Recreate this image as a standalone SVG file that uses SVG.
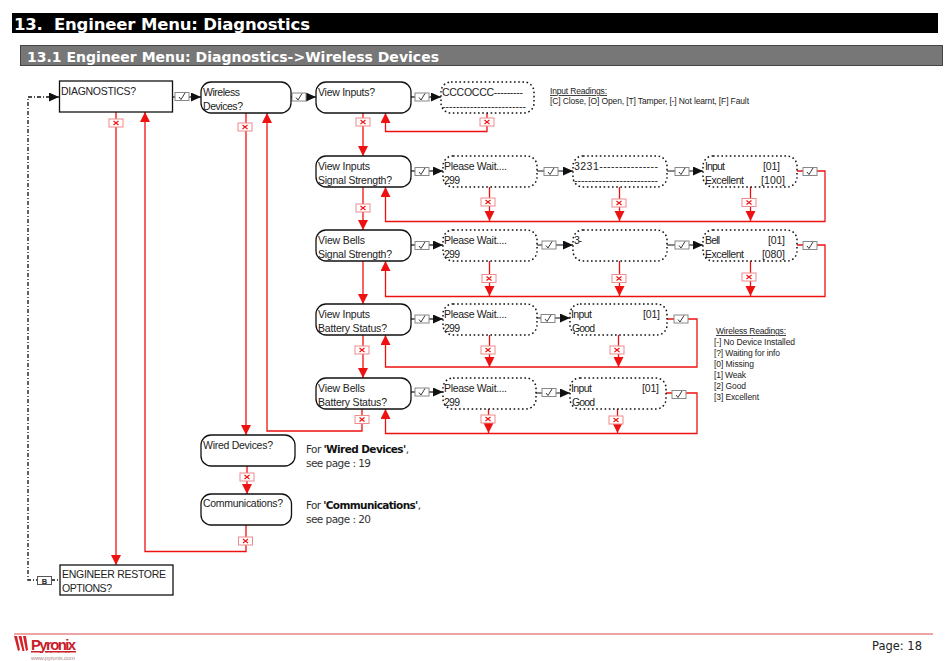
<svg xmlns="http://www.w3.org/2000/svg" width="950" height="661" viewBox="0 0 950 661">
<style>
text{font-family:"Liberation Sans",Arial,sans-serif;font-size:10.5px;fill:#222}
.v{font-family:"DejaVu Sans",Verdana,sans-serif;fill:#333}
.n{font-size:8.5px}
.b{fill:#fff;stroke:#111;stroke-width:1.3}
.d{fill:#fff;stroke:#111;stroke-width:1.5;stroke-dasharray:1.6 2.6}
.r{fill:none;stroke:#ee1111;stroke-width:1.3}
.k{fill:none;stroke:#111;stroke-width:1.2}
.dd{fill:none;stroke:#111;stroke-width:1.3;stroke-dasharray:4 2 1 2}
.chk{fill:#fff;stroke:#888;stroke-width:1}
.xb{fill:#fff;stroke:#f08a8c;stroke-width:1}
</style>
<defs>
<marker id="ar" markerUnits="userSpaceOnUse" markerWidth="11" markerHeight="11" refX="10" refY="5" orient="auto"><path d="M0 0L10 5L0 10Z" fill="#ee1111"/></marker>
<marker id="ak" markerUnits="userSpaceOnUse" markerWidth="11" markerHeight="11" refX="10" refY="4.5" orient="auto"><path d="M0 0L10 4.500L0 9Z" fill="#111"/></marker>
<g id="c"><rect class="chk" x="-7" y="-4" width="14" height="8"/><path d="M-3 0.500L-1 3L3 -3.500" fill="none" stroke="#222" stroke-width="0.900"/></g>
<g id="x"><rect class="xb" x="-7" y="-4" width="14" height="8"/><path d="M-2.500 -2L2.500 2M2.500 -2L-2.500 2" fill="none" stroke="#ee1111" stroke-width="1.100"/></g>
</defs>
<rect x="12" y="13" width="926" height="20" fill="#000"/>
<text x="14" y="30" textLength="296" style="font-family:'DejaVu Sans',Verdana,sans-serif;font-size:16.500px;font-weight:bold;fill:#fff" xml:space="preserve">13.  Engineer Menu: Diagnostics</text>
<rect x="20.500" y="45.500" width="922" height="20" fill="#777" stroke="#444"/>
<text x="27" y="61.500" textLength="412" style="font-family:'DejaVu Sans',Verdana,sans-serif;font-size:14px;font-weight:bold;fill:#fff">13.1 Engineer Menu: Diagnostics-&gt;Wireless Devices</text>

<g id="connectors">
<path class="dd" d="M50 97H28V580H37M51 580H60"/>
<path class="k" d="M49 97H59" marker-end="url(#ak)"/>
<path class="k" d="M172 97H201" marker-end="url(#ak)"/>
<path class="k" d="M291 97H316" marker-end="url(#ak)"/>
<path class="k" d="M411 97H441" marker-end="url(#ak)"/>
<path class="k" d="M411 171H443" marker-end="url(#ak)"/>
<path class="k" d="M537 171H573" marker-end="url(#ak)"/>
<path class="k" d="M667 171H703" marker-end="url(#ak)"/>
<path class="k" d="M411 245H443" marker-end="url(#ak)"/>
<path class="k" d="M537 245H573" marker-end="url(#ak)"/>
<path class="k" d="M667 245H703" marker-end="url(#ak)"/>
<path class="k" d="M411 319H443" marker-end="url(#ak)"/>
<path class="k" d="M537 318H570" marker-end="url(#ak)"/>
<path class="k" d="M411 392H443" marker-end="url(#ak)"/>
<path class="k" d="M536 393H570" marker-end="url(#ak)"/>

<path class="r" d="M116 112V565" marker-end="url(#ar)"/>
<path class="r" d="M246 525V551.500H145V112" marker-end="url(#ar)"/>
<path class="r" d="M246 113V435" marker-end="url(#ar)"/>
<path class="r" d="M247 466V494" marker-end="url(#ar)"/>
<path class="r" d="M362 409V431H267V113" marker-end="url(#ar)"/>
<path class="r" d="M363 113V156" marker-end="url(#ar)"/>
<path class="r" d="M363 187V230" marker-end="url(#ar)"/>
<path class="r" d="M363 261V304" marker-end="url(#ar)"/>
<path class="r" d="M363 335V378" marker-end="url(#ar)"/>
<path class="r" d="M487 113V131.500H385.500V113" marker-end="url(#ar)"/>
<path class="r" d="M797 171H825V221.500H385.500V187" marker-end="url(#ar)"/>
<path class="r" d="M489.500 187V221" marker-end="url(#ar)"/>
<path class="r" d="M619.500 187V221" marker-end="url(#ar)"/>
<path class="r" d="M750.500 187V221" marker-end="url(#ar)"/>
<path class="r" d="M797 245H825V296.500H385.500V261" marker-end="url(#ar)"/>
<path class="r" d="M489.500 261V296" marker-end="url(#ar)"/>
<path class="r" d="M619.500 261V296" marker-end="url(#ar)"/>
<path class="r" d="M750.500 261V296" marker-end="url(#ar)"/>
<path class="r" d="M667 319H697V367H385.500V335" marker-end="url(#ar)"/>
<path class="r" d="M489.500 335V367" marker-end="url(#ar)"/>
<path class="r" d="M618.500 335V367" marker-end="url(#ar)"/>
<path class="r" d="M666 393H697V433.500H385.500V409" marker-end="url(#ar)"/>
<path class="r" d="M488.500 409V433" marker-end="url(#ar)"/>
<path class="r" d="M617.500 409V433" marker-end="url(#ar)"/>

<use href="#c" x="182" y="96.500"/><use href="#c" x="299" y="97"/><use href="#c" x="422" y="97"/>
<use href="#c" x="422" y="171.500"/><use href="#c" x="551" y="171.500"/><use href="#c" x="682" y="171.500"/><use href="#c" x="810" y="171.500"/>
<use href="#c" x="422" y="245.500"/><use href="#c" x="549" y="245"/><use href="#c" x="682" y="245"/><use href="#c" x="810" y="245.500"/>
<use href="#c" x="422" y="319"/><use href="#c" x="548" y="318.500"/><use href="#c" x="681" y="319"/>
<use href="#c" x="422" y="392"/><use href="#c" x="549" y="392.500"/><use href="#c" x="679" y="394.500"/>
<use href="#x" x="116" y="123"/><use href="#x" x="245" y="127"/><use href="#x" x="363" y="122"/><use href="#x" x="487" y="122"/>
<use href="#x" x="363" y="208"/><use href="#x" x="488" y="202"/><use href="#x" x="619" y="203"/><use href="#x" x="749" y="202.500"/>
<use href="#x" x="489" y="278.500"/><use href="#x" x="619" y="278.500"/><use href="#x" x="749" y="277"/>
<use href="#x" x="362" y="350"/><use href="#x" x="488" y="350"/><use href="#x" x="617" y="350"/>
<use href="#x" x="362" y="419.500"/><use href="#x" x="488" y="419"/><use href="#x" x="616" y="420"/>
<use href="#x" x="247" y="477"/><use href="#x" x="245.500" y="541"/>
<rect x="37.500" y="576.500" width="14" height="8" fill="#fff" stroke="#555"/>
<text x="44.500" y="583.500" text-anchor="middle" style="font-size:7.500px;font-weight:bold">B</text>
</g>

<g id="n-diagnostics"><rect class="b" x="59.500" y="81" width="113" height="31"/><text x="61" y="95" textLength="75">DIAGNOSTICS?</text></g>
<g id="n-wireless"><rect class="b" x="201" y="82" width="90" height="31" rx="10"/><text x="203" y="96" textLength="37">Wireless</text><text x="203" y="110" textLength="40">Devices?</text></g>
<g id="n-wired"><rect class="b" x="201" y="435" width="94" height="31" rx="10"/><text x="203" y="449" textLength="70">Wired Devices?</text></g>
<g id="n-comms"><rect class="b" x="201" y="494" width="90.500" height="31" rx="10"/><text x="203" y="507" textLength="80">Communications?</text></g>
<g id="n-restore"><rect class="b" x="60" y="565" width="113" height="30"/><text x="62" y="578" textLength="104">ENGINEER RESTORE</text><text x="62" y="592" textLength="50">OPTIONS?</text></g>

<g id="n-view-inputs"><rect class="b" x="316" y="82" width="95" height="31" rx="10"/><text x="318" y="96" textLength="57">View Inputs?</text></g>
<g id="n-inputs-display"><rect class="d" x="441" y="82" width="93" height="31" rx="10"/><text x="442" y="96" textLength="81">CCCOCCC---------</text><text x="442" y="110" textLength="84">------------------------</text></g>

<g id="n-inputs-signal"><rect class="b" x="316" y="156" width="95" height="31" rx="10"/><text x="318" y="170" textLength="52">View Inputs</text><text x="318" y="184" textLength="74">Signal Strength?</text></g>
<g id="n-wait-1"><rect class="d" x="443" y="156" width="94" height="31" rx="10"/><text x="444" y="170" textLength="63">Please Wait....</text><text x="444" y="184" textLength="16">299</text></g>
<g id="n-scan-1"><rect class="d" x="573" y="156" width="94" height="31" rx="10"/><text x="574" y="170" textLength="84">3231---------------</text><text x="574" y="184" textLength="84">------------------------</text></g>
<g id="n-result-1"><rect class="d" x="703" y="156" width="94" height="31" rx="10"/><text x="705" y="170" textLength="20">Input</text><text x="763" y="170" textLength="17">[01]</text><text x="705" y="184" textLength="39">Excellent</text><text x="761" y="184" textLength="24">[100]</text></g>

<g id="n-bells-signal"><rect class="b" x="316" y="230" width="95" height="31" rx="10"/><text x="318" y="244" textLength="47">View Bells</text><text x="318" y="258" textLength="74">Signal Strength?</text></g>
<g id="n-wait-2"><rect class="d" x="443" y="230" width="94" height="31" rx="10"/><text x="444" y="244" textLength="63">Please Wait....</text><text x="444" y="258" textLength="16">299</text></g>
<g id="n-scan-2"><rect class="d" x="573" y="230" width="94" height="31" rx="10"/><text x="574" y="244" textLength="8">3-</text></g>
<g id="n-result-2"><rect class="d" x="703" y="230" width="94" height="31" rx="10"/><text x="705" y="244" textLength="15">Bell</text><text x="768" y="244" textLength="17">[01]</text><text x="705" y="258" textLength="39">Excellent</text><text x="762" y="258" textLength="23">[080]</text></g>

<g id="n-inputs-battery"><rect class="b" x="316" y="304" width="95" height="31" rx="10"/><text x="318" y="318" textLength="52">View Inputs</text><text x="318" y="332" textLength="69">Battery Status?</text></g>
<g id="n-wait-3"><rect class="d" x="443" y="304" width="94" height="31" rx="10"/><text x="444" y="318" textLength="63">Please Wait....</text><text x="444" y="332" textLength="16">299</text></g>
<g id="n-result-3"><rect class="d" x="570" y="304" width="97" height="31" rx="10"/><text x="571" y="318" textLength="21">Input</text><text x="643" y="318" textLength="17">[01]</text><text x="572" y="332" textLength="23">Good</text></g>

<g id="n-bells-battery"><rect class="b" x="316" y="378" width="95" height="31" rx="10"/><text x="318" y="392" textLength="47">View Bells</text><text x="318" y="406" textLength="69">Battery Status?</text></g>
<g id="n-wait-4"><rect class="d" x="443" y="378" width="93" height="31" rx="10"/><text x="444" y="392" textLength="63">Please Wait....</text><text x="444" y="406" textLength="16">299</text></g>
<g id="n-result-4"><rect class="d" x="570" y="378" width="96" height="31" rx="10"/><text x="571" y="392" textLength="21">Input</text><text x="642" y="392" textLength="17">[01]</text><text x="572" y="406" textLength="23">Good</text></g>

<g id="notes">
<text class="n" x="550" y="94" textLength="57" text-decoration="underline">Input Readings:</text>
<text class="n" x="550" y="104" textLength="199">[C] Close, [O] Open, [T] Tamper, [-] Not learnt, [F] Fault</text>
<text class="n" x="716" y="334" textLength="70" text-decoration="underline">Wireless Readings:</text>
<text class="n" x="714" y="344.500" textLength="81">[-] No Device Installed</text>
<text class="n" x="714" y="355.500" textLength="66">[?] Waiting for info</text>
<text class="n" x="714" y="366.500" textLength="40">[0] Missing</text>
<text class="n" x="714" y="377.500" textLength="32">[1] Weak</text>
<text class="n" x="714" y="388.500" textLength="32">[2] Good</text>
<text class="n" x="714" y="399.500" textLength="45">[3] Excellent</text>
<text class="v" x="306" y="453" textLength="103">For <tspan font-weight="bold" fill="#111">'Wired Devices'</tspan>,</text>
<text class="v" x="306" y="467" textLength="65">see page : 19</text>
<text class="v" x="306" y="509" textLength="115">For <tspan font-weight="bold" fill="#111">'Communications'</tspan>,</text>
<text class="v" x="306" y="523" textLength="65">see page : 20</text>
</g>

<g id="footer">
<path d="M14 634H933" stroke="#d94a4a" stroke-width="1"/>
<path d="M14 636h3l3 14l-2 1zM18.500 636h3l3 15l-2 0zM23 636h3l2 14l-2 1z" fill="#d3222a"/>
<text x="31" y="650" textLength="45" style="font-size:15px;font-weight:bold;fill:#c8202a;font-family:'Liberation Sans Narrow','Liberation Sans',sans-serif" text-decoration="underline">Pyronix</text>
<text x="31" y="660" textLength="44" style="font-size:6px;fill:#a88">www.pyronix.com</text>
<text x="872" y="650" style="font-family:'DejaVu Sans',Verdana,sans-serif;font-size:11.500px;fill:#222">Page: 18</text>
</g>
</svg>
